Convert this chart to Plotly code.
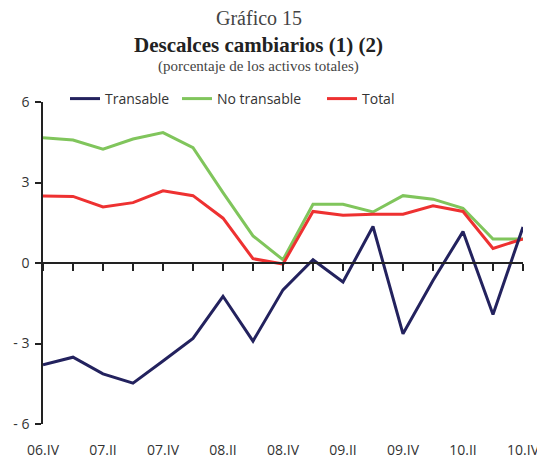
import plotly.graph_objects as go

quarters = ["06.IV", "07.I", "07.II", "07.III", "07.IV", "08.I", "08.II", "08.III", "08.IV",
            "09.I", "09.II", "09.III", "09.IV", "10.I", "10.II", "10.III", "10.IV"]
transable = [-3.79, -3.51, -4.13, -4.48, -3.65, -2.81, -1.24, -2.91, -1.0,
             0.12, -0.71, 1.36, -2.64, -0.65, 1.17, -1.92, 1.34]
no_transable = [4.67, 4.58, 4.24, 4.62, 4.86, 4.30, 2.62, 1.01, 0.12,
                2.19, 2.19, 1.90, 2.51, 2.38, 2.04, 0.89, 0.89]
total = [2.50, 2.48, 2.09, 2.25, 2.69, 2.51, 1.67, 0.16, -0.04,
         1.92, 1.78, 1.82, 1.82, 2.13, 1.92, 0.54, 0.90]
y_ticks = [-6, -3, 0, 3, 6]
y_ticktext = ["- 6", "- 3", "0", "3", "6"]

idx = list(range(len(quarters)))
label_idx = idx[::2]
label_text = [quarters[i] for i in label_idx]

SANS = "Open Sans"
SERIF = "Liberation Serif"
TXT = "#333333"

# page body has an 8px margin; canvas coordinates = screen - 8
OFF = 8
W, H = 545 - OFF, 457 - OFF
L, R, T, B = 43 - OFF, 22, 102 - OFF, 33
PH = H - T - B
PW = W - L - R


def py(p_screen):
    return (H - B - (p_screen - OFF)) / PH


def px(p_screen):
    return (p_screen - OFF - L) / PW


fig = go.Figure()
series = [("No transable", no_transable, "#80c55c", "legend2", "x"),
          ("Total", total, "#ee3131", "legend3", "x"),
          ("Transable", transable, "#23225e", "legend", "x2")]
for name, vals, col, lg, xa in series:
    fig.add_trace(go.Scatter(x=idx, y=vals, mode="lines", name=name, xaxis=xa, yaxis="y",
                             line=dict(color=col, width=3), legend=lg))

leg_common = dict(orientation="h", xref="container", yref="container", yanchor="middle",
                  xanchor="left", font=dict(family=SANS, size=14, color=TXT),
                  bgcolor="rgba(0,0,0,0)", itemwidth=30, borderwidth=0)
leg_y = 1 - (99 - OFF) / H

title_x = px(258.5)

fig.update_layout(
    width=W, height=H,
    margin=dict(l=L, r=R, t=T, b=B, autoexpand=False),
    paper_bgcolor="white", plot_bgcolor="white",
    showlegend=True,
    legend=dict(x=(105 - OFF - 40) / W, y=leg_y, **leg_common),
    legend2=dict(x=(217 - OFF - 40) / W, y=leg_y, **leg_common),
    legend3=dict(x=(362 - OFF - 40) / W, y=leg_y, **leg_common),
    xaxis=dict(range=[0, 16], tickvals=label_idx, ticktext=label_text,
               showline=False, showgrid=False, zeroline=False, automargin=False,
               ticks="outside", ticklen=13, tickcolor="rgba(0,0,0,0)",
               tickfont=dict(family=SANS, size=14, color=TXT)),
    xaxis2=dict(range=[0, 16], overlaying="x", anchor="free", position=0.5,
                side="bottom", tickvals=idx, showticklabels=False, automargin=False,
                showline=True, linecolor="#222222", linewidth=1.5,
                ticks="outside", ticklen=7, tickwidth=1.5, tickcolor="#222222",
                showgrid=False, zeroline=False),
    yaxis=dict(range=[-6, 6], tickvals=y_ticks, ticktext=y_ticktext, automargin=False,
               showline=True, linecolor="#222222", linewidth=1.5,
               ticks="outside", ticklen=6, tickwidth=1.5, tickcolor="#222222",
               ticklabelstandoff=3,
               showgrid=False, zeroline=False,
               tickfont=dict(family=SANS, size=14, color=TXT)),
    annotations=[
        dict(text="Gráfico 15", x=title_x, y=py(18), xref="paper", yref="paper",
             showarrow=False, yanchor="middle", xanchor="center",
             font=dict(family=SERIF, size=20, color="#444444")),
        dict(text="<b>Descalces cambiarios (1) (2)</b>", x=title_x, y=py(45),
             xref="paper", yref="paper", showarrow=False, yanchor="middle", xanchor="center",
             font=dict(family=SERIF, size=21, color="#222222")),
        dict(text="(porcentaje de los activos totales)", x=title_x, y=py(66),
             xref="paper", yref="paper", showarrow=False, yanchor="middle", xanchor="center",
             font=dict(family=SERIF, size=15, color="#444444")),
    ],
)

fig.write_html("out.html")
